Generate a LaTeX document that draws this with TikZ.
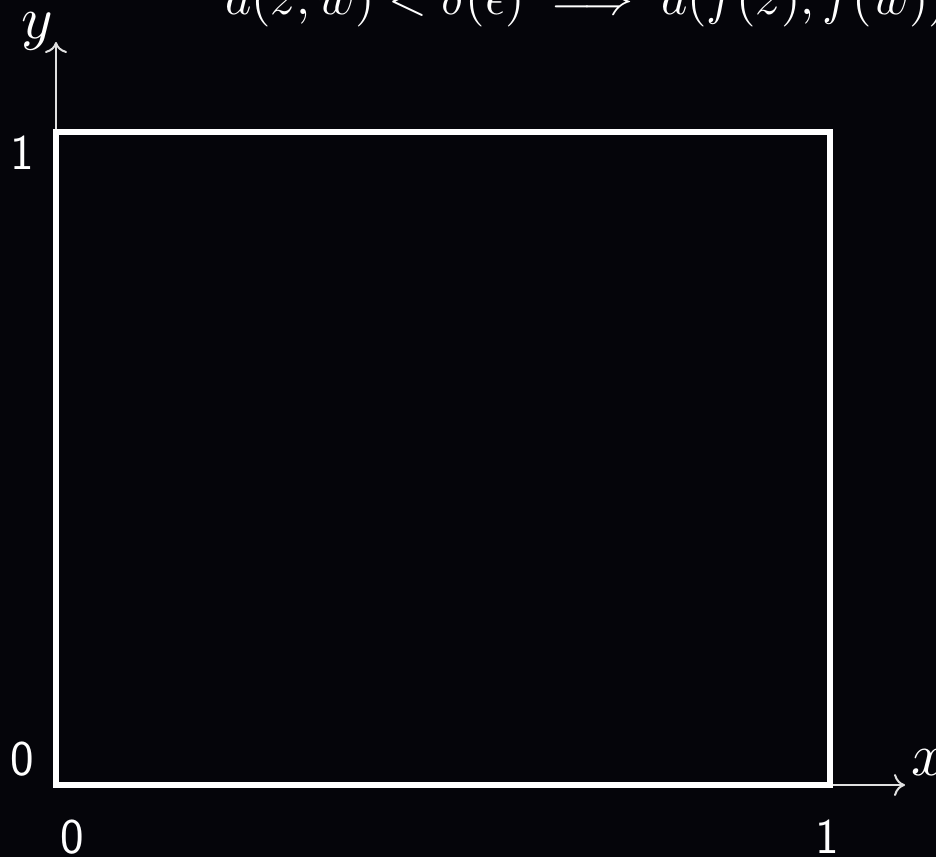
\documentclass[tikz,border=0pt]{standalone}
\usepackage{amsmath}
\usetikzlibrary{arrows.meta}
\definecolor{bg}{RGB}{5,5,10}
\definecolor{axisgray}{RGB}{225,225,225}
\newcommand{\axmath}[1]{\scalebox{6}{$#1$}}
\newcommand{\eqmath}[1]{\scalebox{5}{$#1$}}
\begin{document}
\begin{tikzpicture}[x=1pt,y=-1pt,
  axis/.style={draw=axisgray,line width=2pt,-{Computer Modern Rightarrow[length=11pt,width=22pt]}},
  boxline/.style={draw=white,line width=6pt,line join=miter},
  mathlbl/.style={text=white,inner sep=0pt},
  ticklbl/.style={text=white,inner sep=0pt,font=\fontsize{50}{60}\selectfont\sffamily}]
\fill[bg] (0,0) rectangle (936,857);
\useasboundingbox (0,0) rectangle (936,857);
\clip (0,0) rectangle (936,857);
\coordinate (O) at (56,785);
\coordinate (xend) at (905,785);
\coordinate (yend) at (56,42);
\draw[axis] (O) -- (xend);
\draw[axis] (O) -- (yend);
\draw[boxline] (55.5,132) rectangle (829.5,785);
\node[mathlbl] (ylab) at (37,31.5) {\axmath{y}};
\node[mathlbl] (xlab) at (929,762.5) {\axmath{x}};
\node[mathlbl,anchor=base west] (cond) at (225,14.5) {\eqmath{d(z,w) < \delta(\epsilon) \implies d(f(z),f(w)) < \epsilon}};
\node[ticklbl] (ty1) at (22,153) {1};
\node[ticklbl] (ty0) at (22,759) {0};
\node[ticklbl] (tx0) at (72,837) {0};
\node[ticklbl] (tx1) at (827,837) {1};
\end{tikzpicture}
\end{document}
